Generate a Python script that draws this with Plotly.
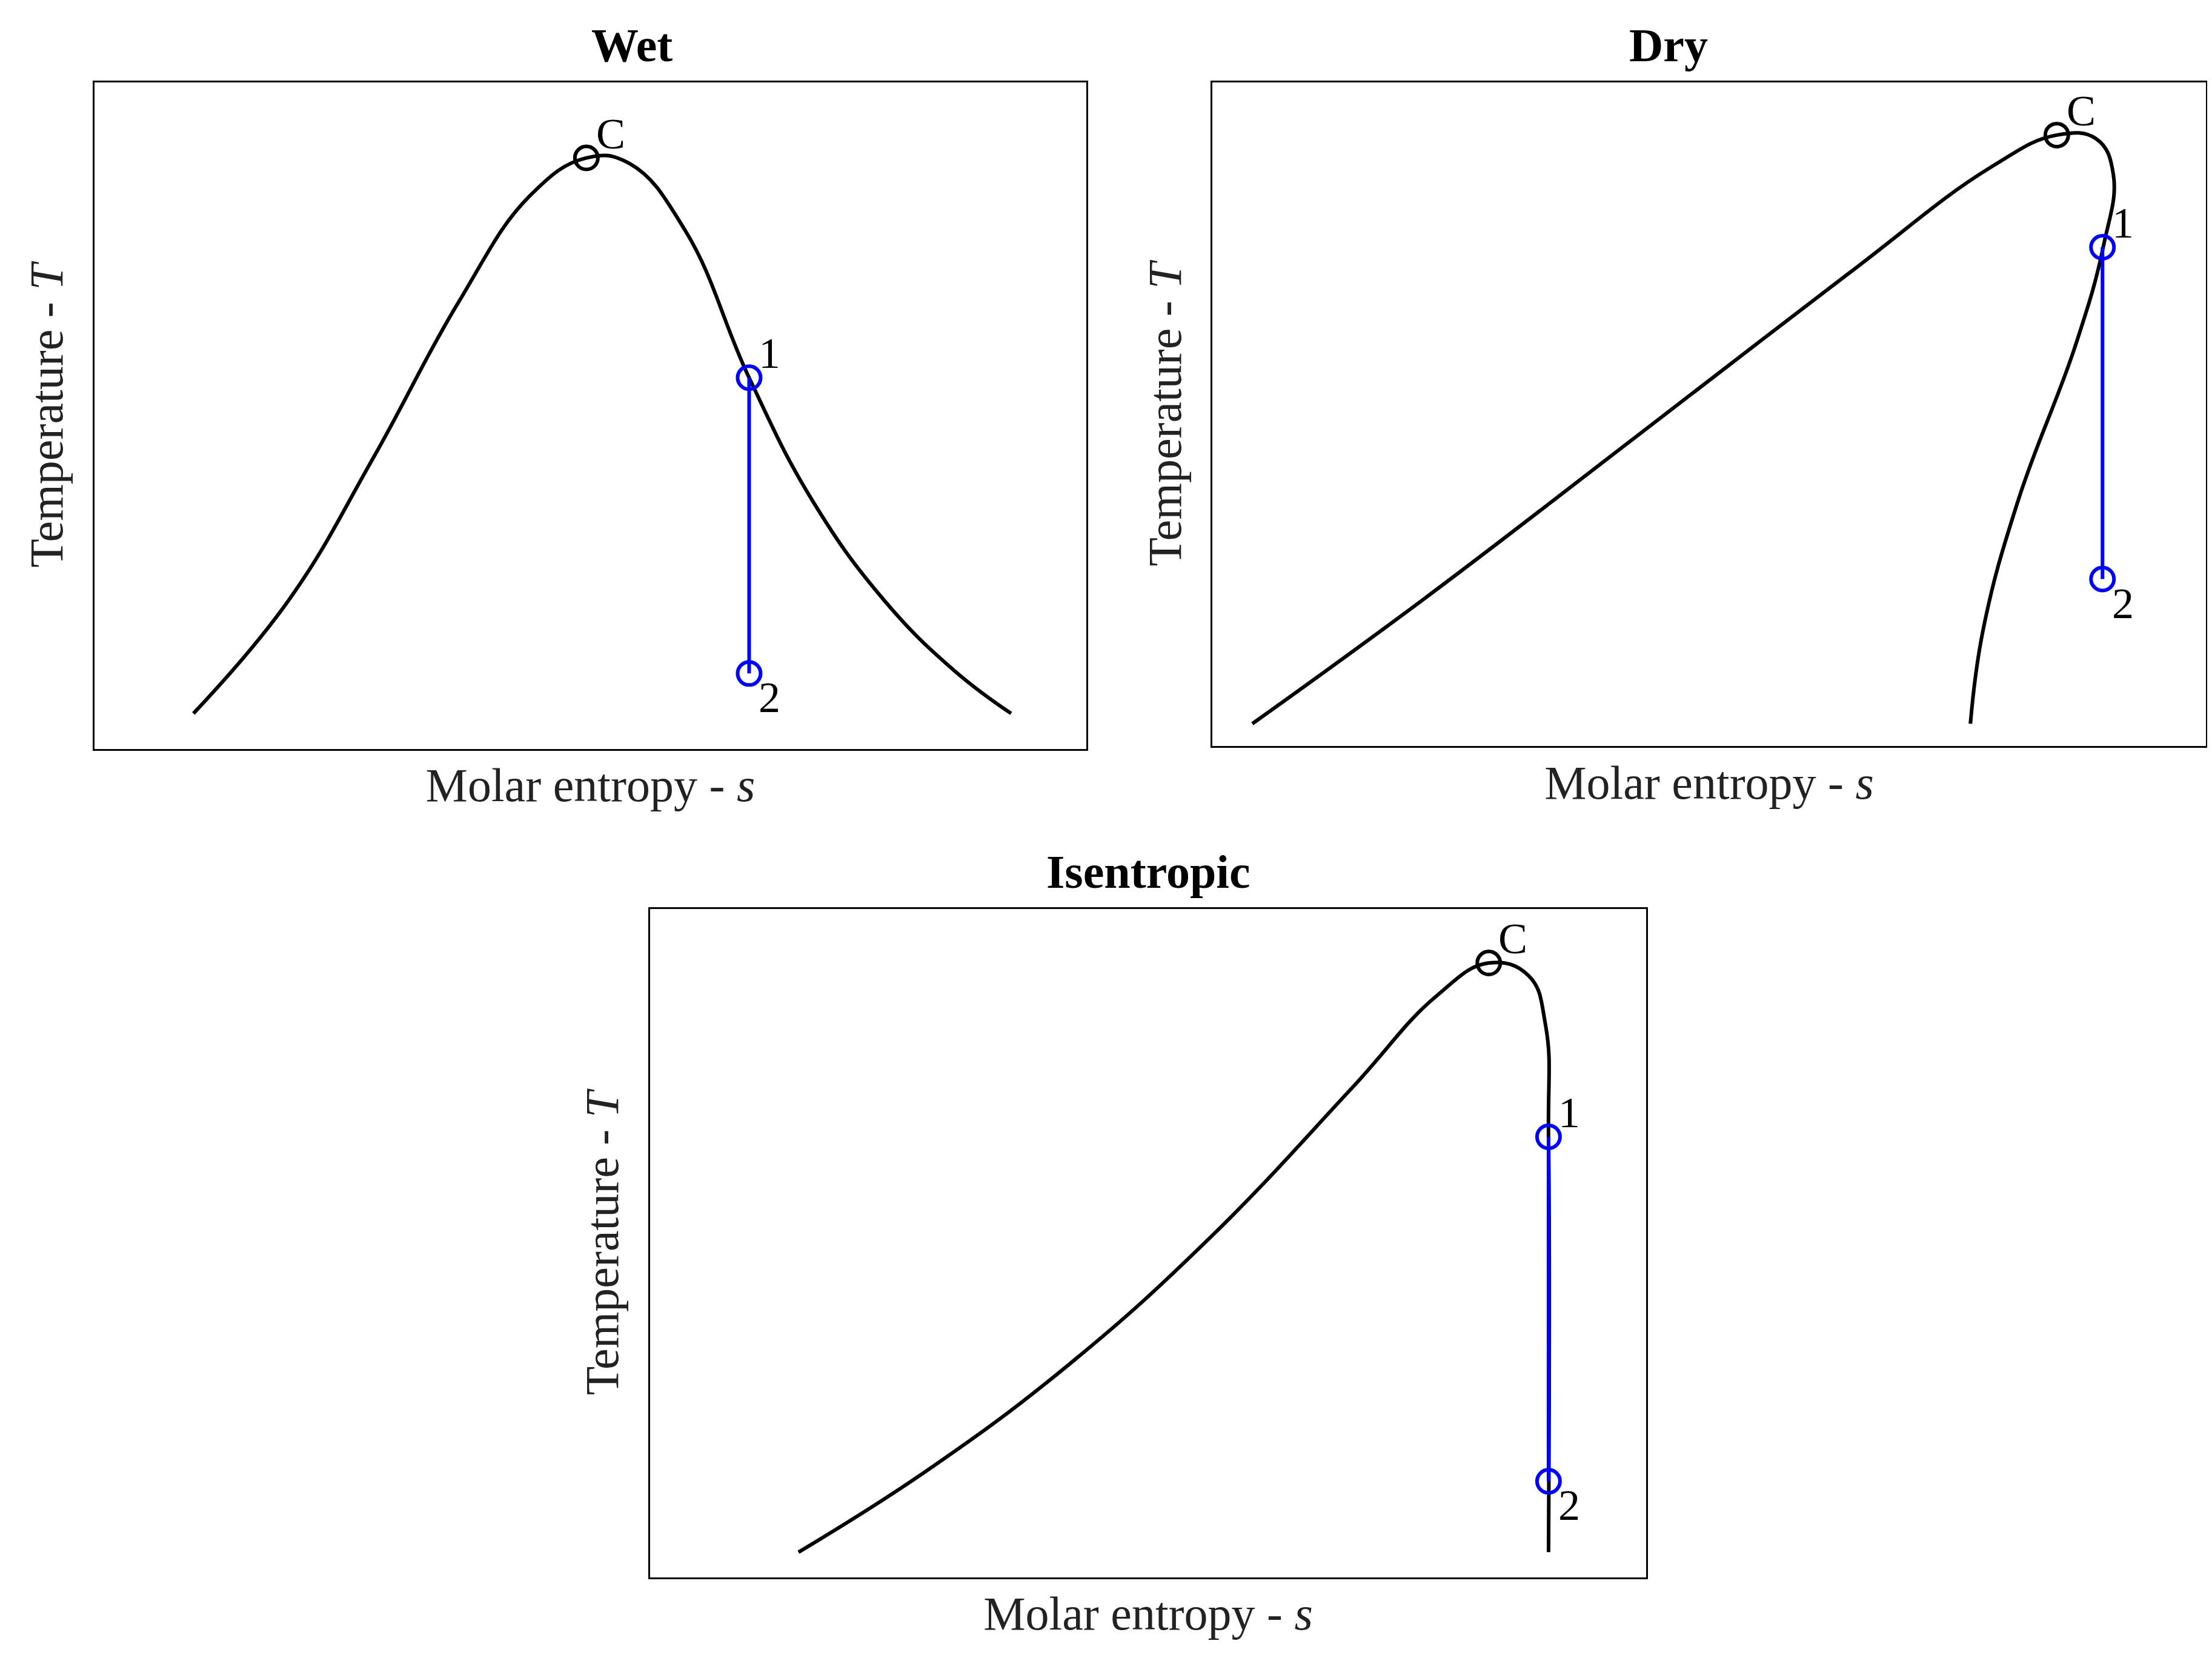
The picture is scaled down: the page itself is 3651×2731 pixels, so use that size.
import plotly.graph_objects as go

# Wet
wet_s = [10, 19.6, 28.1, 36.7, 43.9, 49.6, 53.9, 59.6, 66, 72.4, 79.6, 86.7, 92.4]
wet_T = [5.3, 22.3, 43.6, 67, 83, 88.7, 87.9, 77.7, 55.7, 37.2, 22.3, 11.7, 5.3]
wet_C = (49.6, 88.7)
wet_12_s = [66, 66]
wet_12_T = [55.7, 11.3]
# Dry
dry_s = [4, 21.1, 42.6, 64, 78.3, 85, 89, 90.7, 89.7, 86.9, 81.1, 77.6, 76.3]
dry_T = [3.4, 22, 46.6, 71.2, 87.2, 92.1, 91.5, 86.1, 75.4, 60.5, 37, 17.7, 3.4]
dry_C = (85, 92.1)
dry_12_s = [89.6, 89.6]
dry_12_T = [75.2, 25.2]
# Isentropic
ise_s = [14.9, 27.7, 42, 56.2, 70.4, 78.9, 84.2, 88.2, 89.9, 90.2, 90.2]
ise_T = [3.8, 15.9, 31.8, 50.8, 73.1, 86.9, 91.9, 90, 82.6, 65.7, 3.8]
ise_C = (84.2, 91.9)
ise_12_s = [90.2, 90.2]
ise_12_T = [65.9, 14.4]

panels = [
    ("Wet", wet_s, wet_T, wet_C, wet_12_s, wet_12_T, [0.0404, 0.489], [0.5505, 0.953]),
    ("Dry", dry_s, dry_T, dry_C, dry_12_s, dry_12_T, [0.546, 0.995], [0.552, 0.953]),
    ("Isentropic", ise_s, ise_T, ise_C, ise_12_s, ise_12_T, [0.2917, 0.742], [0.0497, 0.4538]),
]

fig = go.Figure()
F = "Liberation Serif"
ann = []
for i, (name, s, T, C, s12, T12, xd, yd) in enumerate(panels):
    k = "" if i == 0 else str(i + 1)
    xa, ya = "x" + k, "y" + k
    fig.add_trace(go.Scatter(x=s, y=T, mode="lines", line=dict(color="black", width=6, shape="spline", smoothing=1.2),
                             xaxis=xa, yaxis=ya, showlegend=False))
    fig.add_trace(go.Scatter(x=s12, y=T12, mode="lines+markers", line=dict(color="blue", width=6),
                             marker=dict(symbol="circle-open", size=38, color="blue", line=dict(width=6)),
                             xaxis=xa, yaxis=ya, showlegend=False))
    fig.add_trace(go.Scatter(x=[C[0]], y=[C[1]], mode="markers",
                             marker=dict(symbol="circle-open", size=38, color="black", line=dict(width=6)),
                             xaxis=xa, yaxis=ya, showlegend=False))
    for txt, xx, yy, ys in [("C", C[0], C[1], 1), ("1", s12[0], T12[0], 1), ("2", s12[1], T12[1], -1)]:
        ann.append(dict(x=xx, y=yy, xref=xa, yref=ya, text=txt, showarrow=False, xanchor="left",
                        xshift=14, yshift=40 * ys, font=dict(family=F, size=72, color="black")))
    ann.append(dict(x=(xd[0] + xd[1]) / 2, y=yd[1], xref="paper", yref="paper", text="<b>" + name + "</b>",
                    showarrow=False, yanchor="bottom", yshift=16, font=dict(family=F, size=78, color="black")))
    axc = dict(showline=True, mirror=True, linecolor="black", linewidth=3, showgrid=False, zeroline=False,
               showticklabels=False, ticks="")
    fig.update_layout(**{
        "xaxis" + k: dict(axc, domain=xd, range=[0, 100], anchor=ya,
                          title=dict(text="Molar entropy - <i>s</i>", font=dict(family=F, size=78, color="#222"), standoff=30)),
        "yaxis" + k: dict(axc, domain=yd, range=[0, 100], anchor=xa,
                          title=dict(text="Temperature - <i>T</i>", font=dict(family=F, size=78, color="#222"), standoff=24)),
    })

fig.update_layout(width=3651, height=2731, margin=dict(l=0, r=0, t=0, b=0), plot_bgcolor="white",
                  paper_bgcolor="white", annotations=ann)
fig.write_html("out.html")
